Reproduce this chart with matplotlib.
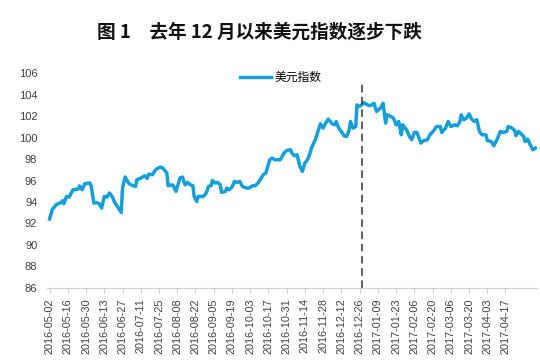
import matplotlib
matplotlib.use("Agg")
import matplotlib.pyplot as plt
import pandas as pd

plt.rcParams['font.family'] = ['Liberation Sans', 'DejaVu Sans']

title = "图 1　去年 12 月以来美元指数逐步下跌"
series_name = "美元指数"

dates = [
    "2016-05-02", "2016-05-04", "2016-05-07", "2016-05-11", "2016-05-12", "2016-05-13", "2016-05-15",
    "2016-05-17", "2016-05-20", "2016-05-24", "2016-05-25", "2016-05-27", "2016-05-29",
    "2016-06-02", "2016-06-03", "2016-06-05", "2016-06-07", "2016-06-09", "2016-06-11", "2016-06-13",
    "2016-06-15", "2016-06-17", "2016-06-19", "2016-06-21", "2016-06-23", "2016-06-26", "2016-06-27",
    "2016-06-29",
    "2016-07-02", "2016-07-05", "2016-07-07", "2016-07-08", "2016-07-11", "2016-07-14", "2016-07-16",
    "2016-07-17", "2016-07-20", "2016-07-22", "2016-07-23", "2016-07-26", "2016-07-28", "2016-07-31",
    "2016-08-01", "2016-08-04", "2016-08-05", "2016-08-07", "2016-08-09", "2016-08-10", "2016-08-12",
    "2016-08-14", "2016-08-16", "2016-08-18", "2016-08-20", "2016-08-21", "2016-08-23", "2016-08-24",
    "2016-08-28", "2016-08-30",
    "2016-09-01", "2016-09-03", "2016-09-04", "2016-09-06", "2016-09-08", "2016-09-10", "2016-09-11",
    "2016-09-14", "2016-09-15", "2016-09-17", "2016-09-19", "2016-09-21", "2016-09-23", "2016-09-25",
    "2016-09-27", "2016-09-30",
    "2016-10-02", "2016-10-05", "2016-10-07", "2016-10-09", "2016-10-11", "2016-10-13", "2016-10-15",
    "2016-10-18", "2016-10-20", "2016-10-22", "2016-10-26", "2016-10-29", "2016-10-31",
    "2016-11-03", "2016-11-04", "2016-11-06", "2016-11-08", "2016-11-10", "2016-11-12", "2016-11-14",
    "2016-11-16", "2016-11-18", "2016-11-19", "2016-11-22", "2016-11-24", "2016-11-26", "2016-11-28",
    "2016-11-30",
    "2016-12-02", "2016-12-05", "2016-12-07", "2016-12-08", "2016-12-10", "2016-12-12", "2016-12-14",
    "2016-12-16", "2016-12-18", "2016-12-19", "2016-12-20", "2016-12-21", "2016-12-23", "2016-12-24",
    "2016-12-25", "2016-12-27", "2016-12-29",
    "2017-01-01", "2017-01-03", "2017-01-06", "2017-01-08", "2017-01-11", "2017-01-13", "2017-01-15",
    "2017-01-16", "2017-01-19", "2017-01-21", "2017-01-23", "2017-01-25", "2017-01-27", "2017-01-28",
    "2017-01-31",
    "2017-02-02", "2017-02-04", "2017-02-06", "2017-02-08", "2017-02-11", "2017-02-13", "2017-02-16",
    "2017-02-18", "2017-02-21", "2017-02-23", "2017-02-26", "2017-02-27",
    "2017-03-02", "2017-03-04", "2017-03-06", "2017-03-09", "2017-03-11", "2017-03-13", "2017-03-14",
    "2017-03-16", "2017-03-18", "2017-03-20", "2017-03-22", "2017-03-24", "2017-03-26", "2017-03-28",
    "2017-03-30",
    "2017-04-02", "2017-04-03", "2017-04-06", "2017-04-08", "2017-04-11", "2017-04-13", "2017-04-15",
    "2017-04-18", "2017-04-19", "2017-04-22", "2017-04-24", "2017-04-25", "2017-04-27", "2017-04-29",
    "2017-05-01", "2017-05-02", "2017-05-04", "2017-05-06", "2017-05-08", "2017-05-10",
]

dxy = [
    92.42, 93.28, 93.75, 93.96, 94.12, 93.84, 94.52,
    94.46, 95.14, 95.20, 95.50, 95.14, 95.70,
    95.77, 95.45, 93.90, 93.96, 93.84, 93.44, 94.52,
    94.46, 94.84, 94.52, 93.96, 93.59, 93.03, 95.30,
    96.33,
    95.70, 95.52, 95.45, 96.07, 96.23, 96.45, 96.20,
    96.60, 96.54, 96.94, 97.07, 97.26, 97.16, 96.70,
    95.52, 95.60, 95.52, 95.00, 95.77, 96.23, 96.33,
    95.60, 95.83, 95.60, 95.52, 94.52, 94.05, 94.52,
    94.52, 94.77,
    95.45, 95.52, 96.00, 95.77, 95.83, 95.60, 94.90,
    94.98, 95.30, 95.14, 95.39, 95.92, 95.83, 95.92,
    95.45, 95.30,
    95.30, 95.52, 95.52, 95.77, 96.14, 96.54, 96.70,
    97.93, 98.09, 97.93, 97.93, 98.56, 98.80,
    98.87, 98.56, 98.30, 98.40, 97.38, 96.85, 97.63,
    97.93, 98.56, 99.02, 99.80, 100.57, 101.28, 100.88,
    101.35,
    101.72, 101.28, 101.19, 101.50, 100.88, 100.57, 100.17,
    100.10, 100.73, 101.50, 101.19, 100.88, 101.03, 103.05,
    102.90, 102.96, 103.27,
    103.05, 102.96, 103.20, 102.43, 102.74, 103.20, 101.35,
    102.12, 101.96, 101.81, 101.19, 101.50, 100.26, 101.19,
    100.73,
    100.17, 99.80, 100.48, 100.48, 99.49, 99.70, 99.80,
    100.26, 100.66, 101.03, 101.03, 100.48,
    100.88, 101.50, 101.03, 101.19, 101.10, 101.50, 102.12,
    101.66, 101.81, 102.21, 101.72, 101.50, 101.66, 100.57,
    100.26,
    100.26, 99.73, 99.63, 99.24, 99.95, 100.57, 100.48,
    100.57, 101.03, 100.88, 100.66, 100.17, 100.57, 100.35,
    100.10, 99.63, 99.86, 99.33, 98.87, 99.02,
]

tick_labels = [
    "2016-05-02", "2016-05-16", "2016-05-30", "2016-06-13", "2016-06-27", "2016-07-11",
    "2016-07-25", "2016-08-08", "2016-08-22", "2016-09-05", "2016-09-19", "2016-10-03",
    "2016-10-17", "2016-10-31", "2016-11-14", "2016-11-28", "2016-12-12", "2016-12-26",
    "2017-01-09", "2017-01-23", "2017-02-06", "2017-02-20", "2017-03-06", "2017-03-20",
    "2017-04-03", "2017-04-17",
]
y_ticks = [86, 88, 90, 92, 94, 96, 98, 100, 102, 104, 106]
marker_date = "2016-12-28"
marker_top = 105.1

x = pd.to_datetime(dates)
xt = pd.to_datetime(tick_labels)

fig = plt.figure(figsize=(5.4, 3.64), dpi=100)
ax = fig.add_axes([0.087, 0.209, 0.907, 0.590])

line_color = '#159fd9'
ln, = ax.plot(x, dxy, color=line_color, lw=2.5, solid_joinstyle='round', label=series_name)
ax.plot(pd.to_datetime([marker_date, marker_date]), [86, marker_top],
        color='#333333', lw=1.1, ls=(0, (5, 3)))

ax.set_ylim(86, 106)
ax.set_yticks(y_ticks)
ax.set_xlim(pd.Timestamp("2016-04-30"), pd.Timestamp("2017-05-11"))
ax.set_xticks(xt)
ax.set_xticklabels(tick_labels, rotation=90)

for s in ['top', 'right', 'left']:
    ax.spines[s].set_visible(False)
ax.spines['bottom'].set_color('#d0d0d0')
ax.spines['bottom'].set_linewidth(0.8)

ax.tick_params(axis='y', length=0, pad=7, labelsize=8, labelcolor='#404040')
ax.tick_params(axis='x', length=3.5, width=0.8, color='#d0d0d0', pad=4,
               labelsize=7.8, labelcolor='#404040', direction='out')

fig.text(0.481, 0.913, title, ha='center', va='center', fontsize=13.4,
         fontweight='bold', family=['Noto Sans CJK SC', 'DejaVu Sans'], color='#111111')

fig.legend(handles=[ln], loc='center', bbox_to_anchor=(0.52, 0.788), frameon=False,
           handlelength=2.6, handletextpad=0.3,
           prop={'family': ['Noto Sans CJK SC', 'DejaVu Sans'], 'size': 8.5})

fig.savefig("out.png", dpi=100, facecolor='white')
